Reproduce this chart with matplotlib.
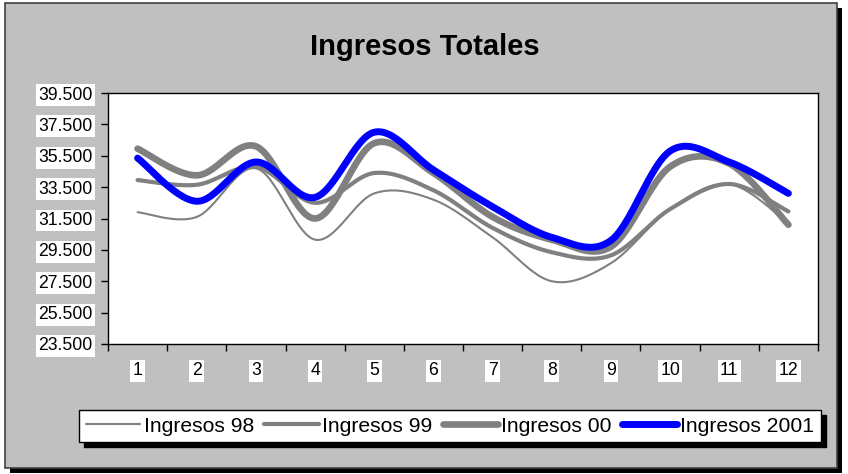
import numpy as np
import matplotlib
matplotlib.use("Agg")
from matplotlib import pyplot as plt
from matplotlib.patches import Rectangle
from matplotlib.lines import Line2D

plt.rcParams['font.family'] = ['Liberation Sans', 'DejaVu Sans']

# Data
months = [1, 2, 3, 4, 5, 6, 7, 8, 9, 10, 11, 12]
ingresos_98 = [31900, 31600, 34700, 30150, 33100, 32700, 30300, 27500, 28650, 32100, 33700, 31200]
ingresos_99 = [33950, 33650, 34800, 32500, 34400, 33300, 30900, 29350, 29150, 32100, 33700, 31950]
ingresos_00 = [35950, 34250, 36100, 31500, 36300, 34400, 31600, 30150, 29700, 34800, 35000, 31100]
ingresos_01 = [35350, 32600, 35100, 32850, 37000, 34600, 32250, 30300, 30100, 35800, 35100, 33100]
series_names = ["Ingresos 98", "Ingresos 99", "Ingresos 00", "Ingresos 2001"]
y_ticks = [23500, 25500, 27500, 29500, 31500, 33500, 35500, 37500, 39500]


# Excel-like smoothed line: bezier segments through every point
def excel_smooth(x, y, n=30):
    pts = np.column_stack([x, y]).astype(float)
    p = np.vstack([pts[0], pts, pts[-1]])
    t = np.linspace(0, 1, n)[:, None]
    out = []
    for i in range(1, len(p) - 2):
        p0, p1, p2, p3 = p[i-1], p[i], p[i+1], p[i+2]
        c1 = p1 + (p2 - p0) / 6
        c2 = p2 - (p3 - p1) / 6
        seg = (1-t)**3*p1 + 3*(1-t)**2*t*c1 + 3*(1-t)*t**2*c2 + t**3*p2
        out.append(seg if i == 1 else seg[1:])
    return np.vstack(out)


W, H = 848, 474
fig = plt.figure(figsize=(W/100, H/100), dpi=100)
fig.patch.set_facecolor('white')

# chart area with black shadow
fig.patches.append(Rectangle((10/W, 1 - 473/H), 832/W, 465/H, transform=fig.transFigure,
                             facecolor='black', edgecolor='none', zorder=-2))
fig.patches.append(Rectangle((5/W, 1 - 468/H), 832/W, 465/H, transform=fig.transFigure,
                             facecolor='#c0c0c0', edgecolor='#404040', lw=1.2, zorder=-1))

ax = fig.add_axes([108/W, 1 - 344/H, 710/W, 251/H])
ax.set_zorder(1)
ax.set_facecolor('white')

styles = [
    dict(color='#808080', lw=1.5),
    dict(color='#808080', lw=3.0),
    dict(color='#808080', lw=4.8),
    dict(color='#0000ff', lw=5.0),
]
data = [ingresos_98, ingresos_99, ingresos_00, ingresos_01]
handles = []
for vals, st, name in zip(data, styles, series_names):
    c = excel_smooth(months, vals)
    ax.plot(c[:, 0], c[:, 1], solid_capstyle='round', solid_joinstyle='round', **st)
    handles.append(Line2D([], [], solid_capstyle='round', label=name, **st))

ax.set_xlim(0.5, 12.5)
ax.set_ylim(23500, 39500)
ax.set_yticks(y_ticks)
ax.set_yticklabels([f"{v:,.0f}".replace(",", ".") for v in y_ticks])
ax.set_xticks(np.arange(0.5, 13, 1))
ax.set_xticklabels([])
ax.set_xticks(months, minor=True)
ax.set_xticklabels([str(m) for m in months], minor=True)

ax.tick_params(axis='y', direction='out', length=5, width=1, color='black', pad=6, labelsize=12.7)
ax.tick_params(axis='x', which='major', direction='out', length=5, width=1, color='black')
ax.tick_params(axis='x', which='minor', length=0, pad=13, labelsize=12.7)
for lab in ax.get_yticklabels() + ax.get_xticklabels(minor=True):
    lab.set_bbox(dict(facecolor='white', edgecolor='none', pad=1.8))
for s in ax.spines.values():
    s.set_color('black')
    s.set_linewidth(1)

fig.text(425/W, 1 - 47/H, "Ingresos Totales", ha='center', va='center',
         fontsize=21, fontweight='bold')

leg = fig.legend(handles=handles, loc='center', bbox_to_anchor=(450/W, 1 - 426/H),
                 ncol=4, frameon=True, fancybox=False, edgecolor='black', framealpha=1,
                 handlelength=2.6, handletextpad=0.15, columnspacing=0.5, borderpad=0.3,
                 fontsize=15.2,
                 shadow={'ox': 3.5, 'oy': -3.5, 'facecolor': 'black', 'edgecolor': 'black', 'alpha': 1})
leg.get_frame().set_linewidth(1)
leg.set_zorder(2)

fig.savefig('out.png', dpi=100)
